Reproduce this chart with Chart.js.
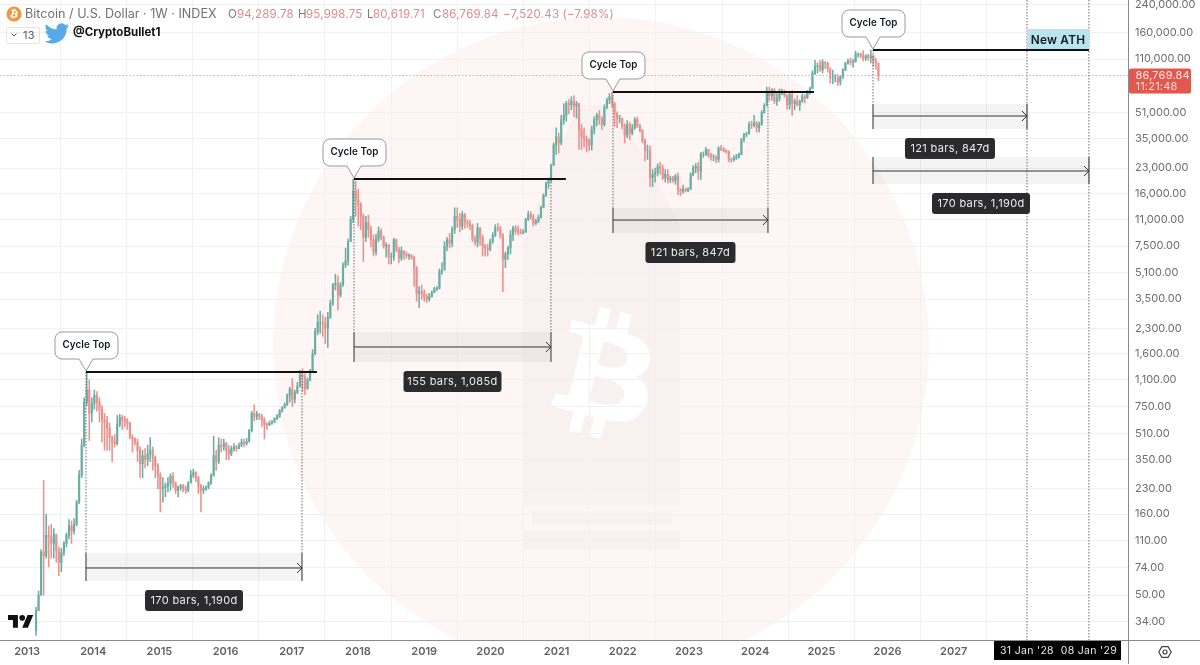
<!DOCTYPE html>
<html><head><meta charset="utf-8">
<style>html,body{margin:0;padding:0;background:#fff;overflow:hidden}#wrap{position:absolute;left:0;top:0;width:1200px;height:665px}</style>
<script src="https://cdn.jsdelivr.net/npm/chart.js@4"></script>
</head><body><div id="wrap"><canvas id="c" width="1200" height="665"></canvas></div>
<script>
// ---- Fortnightly candles (price, USD)
const firstBarYear = 2013.136, barStepYears = 14 / 365.25, firstOpen = 30;
const closes = [40,50,93,88,118,115,105,120,95,80,
92,105,118,135,125,138,190,280,430,800,
950,680,780,880,800,720,620,600,550,480,
450,440,580,640,620,610,590,480,470,450,
400,330,370,350,380,400,360,320,280,230,
235,240,250,275,250,225,235,240,230,225,
250,280,290,270,240,225,230,235,250,280,
370,340,430,420,440,400,380,410,420,410,
430,450,440,455,530,680,650,670,650,620,
580,575,590,600,630,650,700,740,770,880,
960,830,920,1000,1180,1150,970,1100,1250,1600,
2200,2500,2500,2450,2300,2700,3300,4300,4400,3700,
4300,5700,6100,8000,11000,16500,14500,13500,11500,8500,
10500,9500,8200,6900,8300,9300,8500,7500,7600,6400,
6400,8200,7200,6300,7000,6700,6500,6600,6400,5500,
3800,3900,3800,3600,3500,3650,3850,4050,4100,5200,
5300,7500,8200,7800,9500,11500,11000,10000,11800,10600,
10400,10000,8300,7900,9700,8500,7500,7300,7200,8000,
8700,9800,9700,8700,6200,6700,7300,8800,9700,9300,
9200,9100,9200,11000,11800,11400,10400,10700,11300,13000,
15500,18500,19300,24000,32000,36000,33000,46000,49000,58000,
57000,60000,56000,58000,40000,36000,35000,34000,32000,40000,
46000,49000,47000,43000,55000,61000,64000,58000,50000,47000,
47000,42000,37000,43000,38000,41000,46000,42000,39500,34000,
29500,29500,20000,21000,21500,23500,23000,20000,21000,19500,
19800,19200,20500,16800,16500,17000,16600,17000,21000,23000,
23500,22000,28000,28000,30000,27500,27000,27000,26000,30500,
30200,29500,29000,26000,25800,26500,27000,28000,34500,37000,
37500,43000,42500,44000,41000,43000,51000,56000,68000,65000,
70000,60000,62500,67000,69000,65000,57000,66000,58000,60000,
57000,60000,64000,63000,69000,72000,90000,99000,100000,94000,
105000,104000,96000,84000,84000,84000,79000,85000,94000,104000,
107000,105000,106000,118000,118000,115000,111000,115000,112000,115000,
107000,104000,86770];
const highs = [42,53,96,260,160,135,138,130,115,100,
98,108,122,148,145,150,195,300,470,850,
1230,1100,850,950,930,850,760,680,650,590,
490,500,660,670,660,650,630,600,500,480,
470,420,400,410,430,480,420,370,330,290,
270,250,270,285,290,255,240,245,245,240,
255,300,305,295,275,245,240,240,255,285,
490,400,480,470,470,450,430,425,440,430,
445,470,470,475,540,700,770,700,680,670,
640,595,610,615,640,670,720,750,790,900,
990,1120,950,1060,1260,1290,1200,1130,1280,1700,
2300,2800,2950,2800,2700,2900,3450,4400,5000,4900,
4450,5900,7300,8300,11500,19600,19000,17000,14000,11900,
11500,11700,10000,8800,8900,9900,9600,8700,7900,7700,
6800,8400,8300,7400,7400,7000,6900,6700,6600,6500,
5600,4200,4300,4000,3750,3800,3950,4150,4200,5400,
5900,8000,8500,9000,9900,13000,13000,12000,12300,12000,
11000,10900,10300,8700,10400,9800,8800,7700,7700,8300,
9100,10200,10400,10000,9000,6900,7500,9400,10000,10100,
10000,9600,9500,11200,12400,12300,11800,11000,11700,13300,
15900,18800,19900,24300,33000,41000,38000,49000,58000,60000,
61500,64000,65000,60000,58500,43000,41000,36500,35000,42000,
48000,50500,52500,48000,57000,63000,67000,68500,59000,51500,
49000,47000,43500,45500,44500,43000,47500,47800,43000,40000,
35000,32000,31500,22500,23000,24500,25000,24000,22500,22500,
20500,20400,21000,21500,17200,18000,17300,17400,21500,23800,
24500,25000,28800,29000,31000,30000,28500,28000,27500,31300,
31800,31000,30000,29500,26500,27500,28000,28500,35200,38000,
38500,44500,45000,49000,45000,44500,52500,58000,73500,73500,
72000,72000,67000,71500,71500,70500,66000,69000,70000,62000,
65000,61000,66500,66000,70000,73500,93000,108000,104000,108000,
109000,106000,105000,97000,94000,88000,88000,87000,96000,105000,
110000,111500,110000,123000,120000,120000,124000,117000,118000,125200,
116000,111000,96000];
const lows = [28,40,50,50,85,75,85,85,80,66,
70,88,100,112,105,120,135,185,270,420,
760,460,600,720,700,600,450,400,400,400,
340,420,430,560,540,560,540,470,390,430,
340,270,270,310,320,340,300,270,230,165,
190,205,220,225,235,215,205,225,220,215,
220,250,270,255,215,165,215,225,230,245,
275,300,330,390,400,350,350,370,395,395,
410,420,420,430,450,520,610,620,620,560,
470,540,570,580,595,620,640,690,730,760,
800,750,790,900,990,930,890,960,1080,1240,
1570,2100,2150,2050,1850,1750,2650,3200,4000,3000,
3600,4200,5500,5700,8000,10500,11500,10000,9500,6000,
8000,8500,7400,6500,6600,8000,8200,7300,6400,5800,
5800,6100,6900,5900,6100,6200,6300,6200,6200,4200,
3400,3100,3500,3400,3350,3400,3600,3850,3950,4050,
5000,5700,7000,7300,7400,9000,9800,9200,9500,9700,
9800,9500,8000,7600,7400,7600,6500,6500,6500,7000,
7800,8600,9300,8400,3900,5500,6200,6700,8100,8900,
8800,8900,8900,9100,10800,11000,10000,10200,10500,11200,
13000,15300,17200,18800,23800,28000,28500,32000,43000,45000,
50000,53000,48000,47000,30000,30000,31000,29000,29500,29800,
37500,42000,43000,40000,42000,54000,58000,55000,42000,41000,
44000,40500,33000,35500,34500,37000,40000,41000,38500,33000,
25500,26000,17600,17600,18800,20500,21000,19500,18800,18500,
18600,18700,18200,15700,15500,16000,16300,16400,16800,20500,
21500,19500,19500,26800,27500,26800,25700,25500,24800,25000,
29500,29000,28500,25200,24900,25300,26000,26500,27800,33500,
36000,37500,40500,41500,38500,38500,42500,50500,58000,60500,
61000,58000,56500,60000,66000,63500,53500,53500,49000,53000,
56000,52500,59000,58500,62500,66500,72000,88000,90000,92000,
90000,96000,91000,78000,77000,79000,75000,76000,83000,93000,
102000,101000,98000,105000,113000,112000,107000,107500,108000,104000,
99000,95000,80620];

// ---- Axes
const yearTicks = [2013,2014,2015,2016,2017,2018,2019,2020,2021,2022,2023,2024,2025,2026,2027];
const priceTicks = [240000,160000,110000,51000,35000,23000,16000,11000,7500,5100,3500,2300,1600,1100,750,510,350,230,160,110,74,50,34];
const xMin = 2012.592, xMax = 2029.632, yMin = 26.25, yMax = 256600;
const lastPrice = 86769.84;

// ---- Drawings, in chart coordinates (year, price)
const cycleTopLabel = "Cycle Top";
const cycleTopYears = [2013.891, 2017.94, 2021.852, 2025.78];
const cycleTopPrices = [1230, 19640, 68500, 125200];
const cycleLineEnds = [2017.38, 2021.14, 2024.888, 2029.042];
const rangeStarts = [2013.891, 2017.94, 2021.852, 2025.78, 2025.78];
const rangeEnds = [2017.154, 2020.915, 2024.193, 2028.106, 2029.042];
const rangeTops = [91.5, 2184, 12950, 57650, 26940];
const rangeMids = [73.8, 1762, 10900, 48530, 22040];
const rangeBottoms = [61.2, 1420, 9050, 40270, 18290];
const rangeLabels = ["170 bars, 1,190d","155 bars, 1,085d","121 bars, 847d","121 bars, 847d","170 bars, 1,190d"];
const dottedRows = [[2013.891,1230,91.5],[2017.154,1230,91.5],[2017.94,19640,2184],[2020.915,19640,2184],[2021.852,68500,12950],[2024.193,68500,12950],[2025.78,125200,57650]];
const futureYears = [2028.106, 2029.042];
const futureLabels = ["31 Jan '28", "08 Jan '29"];
const athBandTop = 169200;
const athLabel = "New ATH";

const headerTitle = "Bitcoin / U.S. Dollar · 1W · INDEX";
const ohlcLetters = ["O","H","L","C"];
const ohlcValues = ["94,289.78","95,998.75","80,619.71","86,769.84"];
const changeText = "−7,520.43 (−7.98%)";
const handle = "@CryptoBullet1";
const countdown = "11:21:48";

const FONT = 'Inter, "Noto Sans", sans-serif';
const UP = '#6aaea3', DOWN = '#e9918d';
const BTC = "M46.1 27.441c.637-4.258-2.605-6.547-7.038-8.074l1.438-5.768-3.511-.875-1.4 5.616c-.923-.23-1.871-.447-2.813-.662l1.41-5.653-3.509-.875-1.439 5.766c-.764-.174-1.514-.346-2.242-.527l.004-.018-4.842-1.209-.934 3.75s2.605.597 2.55.634c1.422.355 1.679 1.296 1.636 2.042l-1.638 6.571c.098.025.225.061.365.117l-.371-.092-2.296 9.205c-.174.432-.615 1.08-1.609.834.035.051-2.552-.637-2.552-.637l-1.743 4.019 4.569 1.139c.85.213 1.683.436 2.503.646l-1.453 5.834 3.507.875 1.439-5.772c.958.26 1.888.5 2.798.726l-1.434 5.745 3.511.875 1.453-5.823c5.987 1.133 10.489.676 12.384-4.739 1.527-4.36-.076-6.875-3.226-8.515 2.294-.529 4.022-2.038 4.483-5.155zM38.08 38.69c-1.085 4.36-8.426 2.003-10.806 1.412l1.928-7.729c2.38.594 10.012 1.77 8.878 6.317zm1.086-11.312c-.99 3.966-7.1 1.951-9.082 1.457l1.748-7.01c1.982.494 8.096 1.416 7.334 5.553z";
const BIRD = "M23.953 4.57a10 10 0 01-2.825.775 4.958 4.958 0 002.163-2.723c-.951.555-2.005.959-3.127 1.184a4.92 4.92 0 00-8.384 4.482C7.69 8.095 4.067 6.13 1.64 3.162a4.822 4.822 0 00-.666 2.475c0 1.71.87 3.213 2.188 4.096a4.904 4.904 0 01-2.228-.616v.06a4.923 4.923 0 003.946 4.827 4.996 4.996 0 01-2.212.085 4.936 4.936 0 004.604 3.417 9.867 9.867 0 01-6.102 2.105c-.39 0-.779-.023-1.17-.067a13.995 13.995 0 007.557 2.209c9.053 0 13.998-7.496 13.998-13.985 0-.21 0-.42-.015-.63A9.935 9.935 0 0024 4.59z";

const barYears = closes.map((_, i) => firstBarYear + i * barStepYears);
const opens = closes.map((_, i) => i ? closes[i - 1] : firstOpen);
const barColors = closes.map((c, i) => c >= opens[i] ? UP : DOWN);

function text(ctx, s, x, y, font, color, align, spacing) {
  ctx.font = font; ctx.fillStyle = color; ctx.textAlign = align || 'left'; ctx.textBaseline = 'middle';
  ctx.letterSpacing = (spacing || 0) + 'px';
  ctx.fillText(s, x, y);
  ctx.letterSpacing = '0px';
}
function rr(ctx, x, y, w, h, r) { ctx.beginPath(); ctx.roundRect(x, y, w, h, r); }

const backdrop = {
  id: 'backdrop',
  beforeDraw(chart) {
    const ctx = chart.ctx;
    ctx.save();
    ctx.fillStyle = '#ffffff'; ctx.fillRect(0, 0, 1200, 665);
    ctx.beginPath(); ctx.rect(0, 0, 1128, 640); ctx.clip();
    ctx.fillStyle = '#fef6f5';
    ctx.beginPath(); ctx.arc(601, 345, 328, 0, Math.PI * 2); ctx.fill();
    ctx.fillStyle = 'rgba(90,90,90,0.03)';
    ctx.beginPath();
    ctx.moveTo(578, 105); ctx.lineTo(616, 105); ctx.lineTo(680, 225); ctx.lineTo(680, 505);
    ctx.lineTo(523, 505); ctx.lineTo(523, 240); ctx.closePath(); ctx.fill();
    ctx.fillRect(532, 512, 140, 13);
    ctx.fillRect(523, 530, 157, 20);
    ctx.translate(604, 376); ctx.scale(3.26, 3.26); ctx.translate(-32, -32.4);
    ctx.fillStyle = '#ffffff'; ctx.fill(new Path2D(BTC));
    ctx.restore();
  }
};

const drawings = {
  id: 'drawings',
  afterDatasetsDraw(chart) {
    const ctx = chart.ctx, X = chart.scales.x, Y = chart.scales.y;
    const px = v => X.getPixelForValue(v), py = v => Y.getPixelForValue(v);
    ctx.save();
    // last price line
    ctx.strokeStyle = '#e3a5a3'; ctx.lineWidth = 1; ctx.setLineDash([1.5, 2]);
    ctx.beginPath(); ctx.moveTo(0, py(lastPrice)); ctx.lineTo(1128, py(lastPrice)); ctx.stroke();
    // dotted verticals
    ctx.strokeStyle = '#6a6a6a'; ctx.setLineDash([1.5, 1.5]);
    dottedRows.forEach(r => { ctx.beginPath(); ctx.moveTo(px(r[0]), py(r[1])); ctx.lineTo(px(r[0]), py(r[2])); ctx.stroke(); });
    futureYears.forEach(v => { ctx.beginPath(); ctx.moveTo(px(v), 0); ctx.lineTo(px(v), 640); ctx.stroke(); });
    ctx.setLineDash([]);
    // New ATH band
    const bx0 = px(futureYears[0]), bx1 = px(futureYears[1]), bt = py(athBandTop), bb = py(cycleTopPrices[3]);
    ctx.fillStyle = '#b9e4ef'; ctx.fillRect(bx0, bt, bx1 - bx0, bb - bt);
    text(ctx, athLabel, (bx0 + bx1) / 2, (bt + bb) / 2 + .5, '600 11.8px ' + FONT, '#16181d', 'center', .25);
    // ranges
    rangeStarts.forEach((s, i) => {
      const x0 = px(s), x1 = px(rangeEnds[i]), t = py(rangeTops[i]), m = py(rangeMids[i]), b = py(rangeBottoms[i]);
      ctx.fillStyle = 'rgba(120,120,120,0.08)'; ctx.fillRect(x0, t, x1 - x0, b - t);
      ctx.strokeStyle = '#666'; ctx.lineWidth = 1.4;
      ctx.beginPath(); ctx.moveTo(x0, t); ctx.lineTo(x0, b); ctx.moveTo(x1, t); ctx.lineTo(x1, b); ctx.stroke();
      ctx.strokeStyle = '#333'; ctx.lineWidth = 1;
      ctx.beginPath(); ctx.moveTo(x0, m); ctx.lineTo(x1, m);
      ctx.moveTo(x1 - 5, m - 5); ctx.lineTo(x1, m); ctx.lineTo(x1 - 5, m + 5); ctx.stroke();
      const cx = (x0 + x1) / 2, w = rangeLabels[i].length > 14 ? 98 : 90;
      ctx.fillStyle = '#2b2b2d'; rr(ctx, cx - w / 2, b + 9, w, 21, 3); ctx.fill();
      text(ctx, rangeLabels[i], cx, b + 19.5, '400 11px ' + FONT, '#ececec', 'center', .35);
    });
    // cycle top lines and callouts
    cycleTopYears.forEach((yr, i) => {
      const x = px(yr), y = py(cycleTopPrices[i]);
      ctx.strokeStyle = '#111'; ctx.lineWidth = 2;
      ctx.beginPath(); ctx.moveTo(x, y); ctx.lineTo(px(cycleLineEnds[i]), y); ctx.stroke();
      const l = x - 31, r = x + 32, t = y - 40, b = y - 13, rad = 7;
      ctx.beginPath();
      ctx.moveTo(l + rad, t); ctx.lineTo(r - rad, t); ctx.arcTo(r, t, r, t + rad, rad); ctx.lineTo(r, b - rad); ctx.arcTo(r, b, r - rad, b, rad);
      ctx.lineTo(x + 7, b); ctx.lineTo(x, y - 1); ctx.lineTo(x - 7, b); ctx.lineTo(l + rad, b);
      ctx.arcTo(l, b, l, b - rad, rad); ctx.lineTo(l, t + rad); ctx.arcTo(l, t, l + rad, t, rad); ctx.closePath();
      ctx.fillStyle = '#fff'; ctx.fill(); ctx.strokeStyle = '#9a9a9a'; ctx.lineWidth = 1; ctx.stroke();
      text(ctx, cycleTopLabel, x + .5, t + 13.5, '600 9.8px ' + FONT, '#131722', 'center', .1);
    });
    ctx.restore();
  },
  afterDraw(chart) {
    const ctx = chart.ctx, X = chart.scales.x, Y = chart.scales.y;
    ctx.save();
    // axis frame
    ctx.strokeStyle = '#8b8b8b'; ctx.lineWidth = 1;
    ctx.beginPath(); ctx.moveTo(1128.5, 0); ctx.lineTo(1128.5, 664); ctx.moveTo(0, 640.5); ctx.lineTo(1200, 640.5); ctx.stroke();
    // future date tags
    ctx.fillStyle = '#000'; ctx.fillRect(994, 641, 127, 19);
    futureYears.forEach((v, i) => text(ctx, futureLabels[i], X.getPixelForValue(v), 651, '400 10.5px ' + FONT, '#e8e8e8', 'center', .3));
    // price badge
    const by = Y.getPixelForValue(lastPrice);
    ctx.fillStyle = '#e2584f'; rr(ctx, 1129, by - 7, 62, 25, 2); ctx.fill();
    text(ctx, lastPrice.toLocaleString('en-US', {minimumFractionDigits: 2}), 1135.5, by + 0, '400 11px ' + FONT, '#ffe9e6', 'left', .2);
    text(ctx, countdown, 1135.5, by + 11, '400 11px ' + FONT, '#ffd9d5', 'left', .2);
    // settings icon
    ctx.strokeStyle = '#444'; ctx.lineWidth = 1.2;
    ctx.beginPath();
    for (let i = 0; i < 6; i++) { const a = Math.PI / 3 * i; const hx = 1165 + 6.2 * Math.cos(a), hy = 652 + 6.2 * Math.sin(a); i ? ctx.lineTo(hx, hy) : ctx.moveTo(hx, hy); }
    ctx.closePath(); ctx.stroke();
    ctx.beginPath(); ctx.arc(1165, 652, 2, 0, Math.PI * 2); ctx.stroke();
    // coin
    ctx.fillStyle = '#f0963a'; ctx.beginPath(); ctx.arc(14, 14, 7.5, 0, Math.PI * 2); ctx.fill();
    ctx.save(); ctx.translate(14, 14); ctx.scale(.26, .26); ctx.translate(-32, -32.4); ctx.fillStyle = '#fff'; ctx.fill(new Path2D(BTC)); ctx.restore();
    // header
    text(ctx, headerTitle, 25, 14.5, '400 12.6px ' + FONT, '#6f7176', 'left', 0);
    const letterX = [228, 298, 367, 433], valueX = [237, 306, 373, 442];
    ohlcLetters.forEach((s, i) => {
      text(ctx, s, letterX[i], 14.5, '400 11.5px ' + FONT, '#7b7d82', 'left', .2);
      text(ctx, ohlcValues[i], valueX[i], 14.5, '400 11.5px ' + FONT, '#e28a8a', 'left', .2);
    });
    text(ctx, changeText, 503, 14.5, '400 11.5px ' + FONT, '#e28a8a', 'left', .2);
    // interval box
    ctx.strokeStyle = '#e4e4e4'; ctx.lineWidth = 1; rr(ctx, 6.5, 27.5, 33, 16, 2); ctx.stroke();
    ctx.strokeStyle = '#555'; ctx.lineWidth = 1; ctx.beginPath(); ctx.moveTo(11.5, 33.5); ctx.lineTo(14, 36); ctx.lineTo(16.5, 33.5); ctx.stroke();
    text(ctx, "13", 23, 36, '400 11px ' + FONT, '#555', 'left', .2);
    // bird
    ctx.save(); ctx.translate(44.5, 21); ctx.scale(1.03, 1.03); ctx.fillStyle = '#57a9e8'; ctx.fill(new Path2D(BIRD)); ctx.restore();
    text(ctx, handle, 73, 33, '700 11.5px ' + FONT, '#111', 'left', 0);
    // trading view mark
    ctx.save(); ctx.translate(8, 612); ctx.scale(.71, .72); ctx.fillStyle = '#111';
    ctx.fill(new Path2D("M14 22H7V11H0V4h14v18zM28 22h-8l7.5-18h8L28 22z"));
    ctx.beginPath(); ctx.arc(20, 8, 4, 0, Math.PI * 2); ctx.fill(); ctx.restore();
    ctx.restore();
  }
};

new Chart(document.getElementById('c'), {
  type: 'bar',
  plugins: [backdrop, drawings],
  data: {
    datasets: [
      { label: 'Wick', data: barYears.map((x, i) => ({x, y: [lows[i], highs[i]]})), backgroundColor: barColors, barThickness: 0.9, grouped: false, order: 2 },
      { label: 'Body', data: barYears.map((x, i) => ({x, y: [Math.min(opens[i], closes[i]), Math.max(opens[i], closes[i])]})), backgroundColor: barColors, barThickness: 1.5, grouped: false, order: 1 }
    ]
  },
  options: {
    responsive: false, animation: false, devicePixelRatio: 1,
    layout: { padding: 0, autoPadding: false },
    plugins: { legend: { display: false }, tooltip: { enabled: false }, title: { display: false } },
    scales: {
      x: {
        type: 'linear', min: xMin, max: xMax, offset: false, bounds: 'data',
        afterBuildTicks: a => { a.ticks = yearTicks.map(v => ({value: v})); },
        afterFit: a => { a.height = 25; a.paddingLeft = 0; a.paddingRight = 0; a.paddingTop = 0; a.paddingBottom = 0; },
        grid: { color: '#f1f1f1', lineWidth: 1, drawTicks: false },
        border: { display: false },
        ticks: { autoSkip: false, maxRotation: 0, padding: 5, color: '#5f6166', font: { family: FONT, size: 11, weight: '600' }, callback: v => String(v) }
      },
      y: {
        type: 'logarithmic', position: 'right', min: yMin, max: yMax, bounds: 'data',
        afterBuildTicks: a => { a.ticks = priceTicks.map(v => ({value: v})); a.min = yMin; a.max = yMax; },
        afterFit: a => { a.width = 72; a.paddingLeft = 0; a.paddingRight = 0; a.paddingTop = 0; a.paddingBottom = 0; },
        grid: { color: '#f1f1f1', lineWidth: 1, drawTicks: false },
        border: { display: false },
        ticks: { autoSkip: false, padding: 7, crossAlign: 'near', color: '#6c6e73', font: { family: FONT, size: 11 },
          callback: v => Number(v).toLocaleString('en-US', {minimumFractionDigits: 2, maximumFractionDigits: 2}) }
      }
    }
  }
});
</script></body></html>
